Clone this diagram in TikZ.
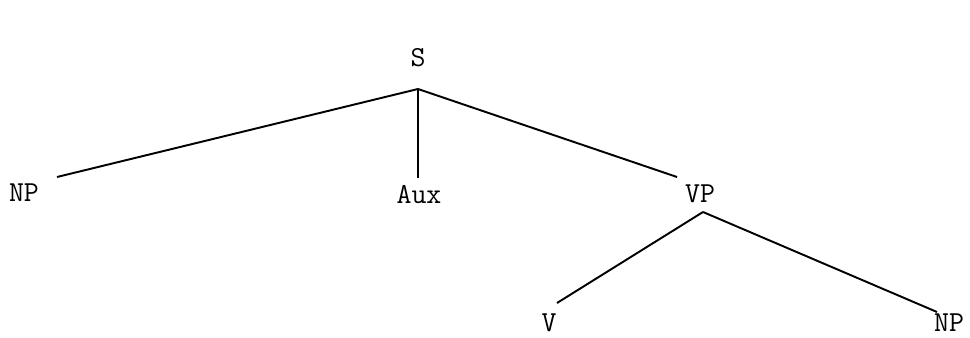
\documentclass[tikz,border=0pt]{standalone}
\usepackage{fontspec}
\begin{document}
\begin{tikzpicture}[
  catlabel/.style={font=\ttfamily\fontsize{16.5}{18}\selectfont, inner sep=0pt},
  branch/.style={line width=1.1pt, black}
]
\useasboundingbox (0,0) rectangle (19.4,-6.76);

% Branching points
\coordinate (sroot) at (8.36,-1.78);
\coordinate (vproot) at (14.06,-4.24);

% Line ends
\coordinate (npLend) at (1.14,-3.54);
\coordinate (auxend) at (8.36,-3.56);
\coordinate (vpend) at (13.54,-3.54);
\coordinate (vend) at (11.14,-6.06);
\coordinate (npRend) at (18.74,-6.24);

% Category labels
\node[catlabel] (s) at (8.36,-1.16) {S};
\node[catlabel] (npL) at (0.48,-3.86) {NP};
\node[catlabel] (aux) at (8.38,-3.90) {Aux};
\node[catlabel] (vp) at (14.0,-3.88) {VP};
\node[catlabel] (v) at (10.98,-6.46) {V};
\node[catlabel] (npR) at (18.98,-6.46) {NP};

% Branches
\draw[branch] (sroot) -- (npLend);
\draw[branch] (sroot) -- (auxend);
\draw[branch] (sroot) -- (vpend);
\draw[branch] (vproot) -- (vend);
\draw[branch] (vproot) -- (npRend);

\end{tikzpicture}
\end{document}
